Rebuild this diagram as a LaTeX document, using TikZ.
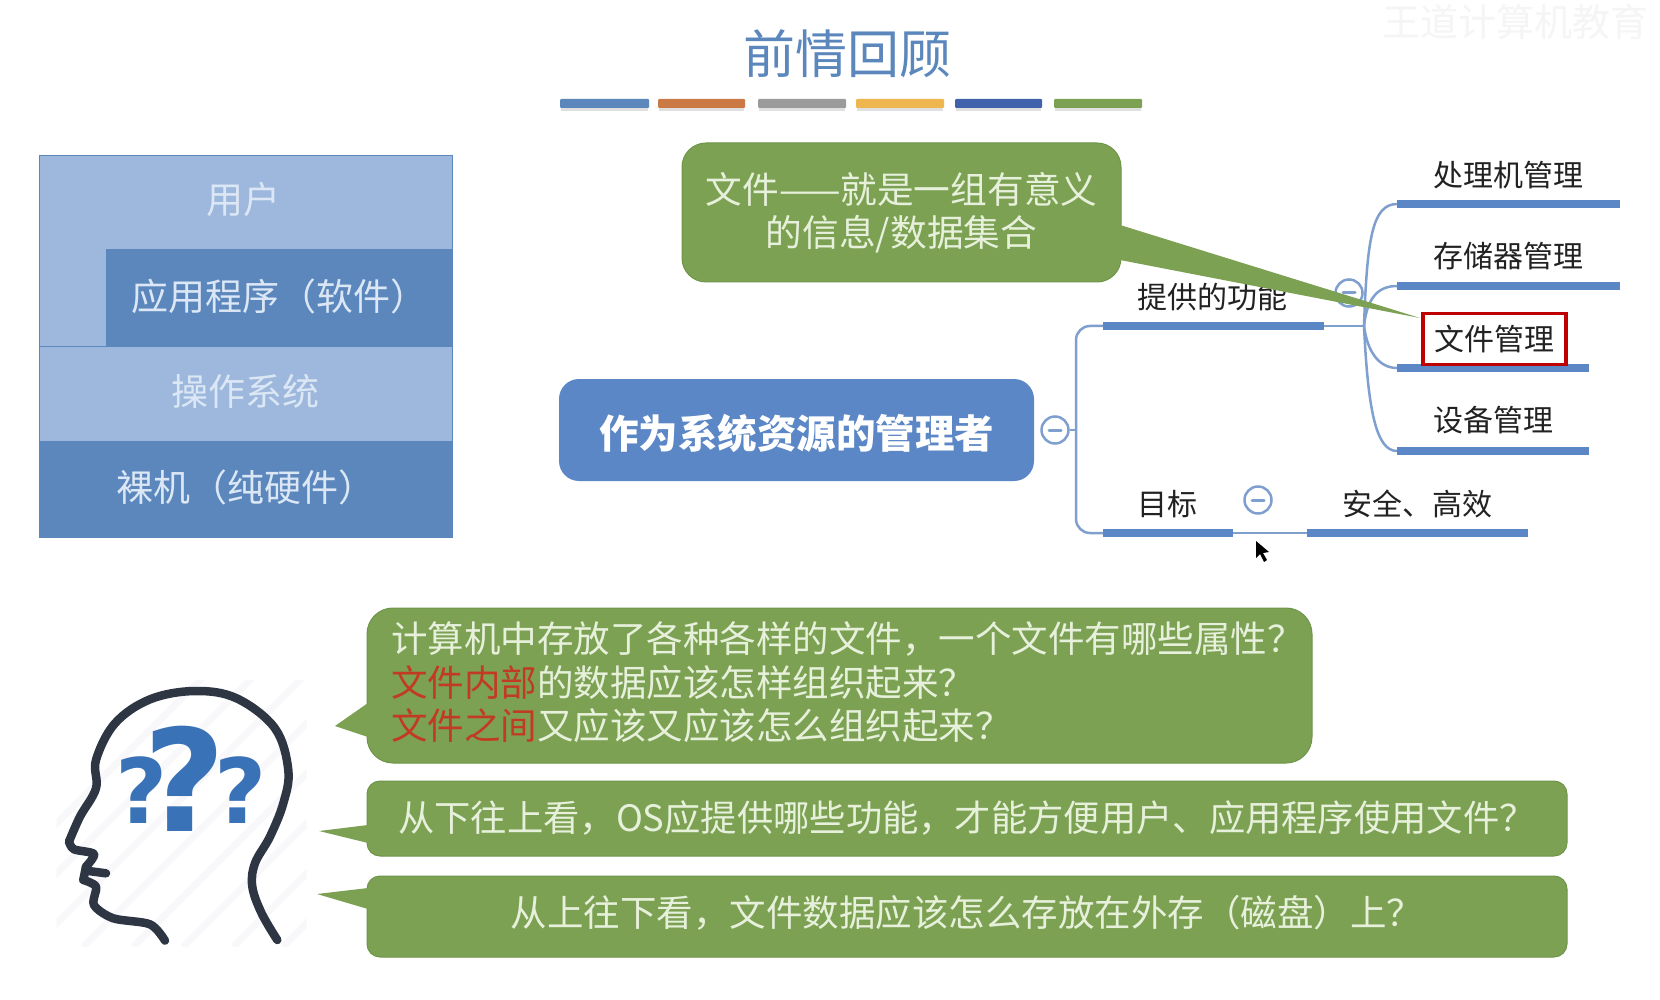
\documentclass[tikz,border=0pt]{standalone}
\usepackage{fontspec}
\setmainfont{Noto Sans CJK SC}
\newfontfamily\qfont{DejaVu Sans}
\definecolor{stackdark}{HTML}{5B87BD}
\definecolor{stacklight}{HTML}{9DB8DC}
\definecolor{stacktext}{HTML}{DCE7F5}
\definecolor{callgreen}{HTML}{7CA153}
\definecolor{callline}{HTML}{6F9548}
\definecolor{calltext}{HTML}{E6F0DA}
\definecolor{mapblue}{HTML}{5C87C6}
\definecolor{thinblue}{HTML}{7F9FCF}
\definecolor{inktext}{HTML}{222222}
\definecolor{headink}{HTML}{2E3644}
\definecolor{qblue}{HTML}{3A72B8}
\definecolor{hatch}{HTML}{F8F8FB}
\definecolor{redtext}{HTML}{C23A22}
\definecolor{baror}{HTML}{CC7A45}
\definecolor{bargr}{HTML}{9B9B9B}
\definecolor{baryl}{HTML}{EFB54F}
\definecolor{barbl}{HTML}{3F62AB}
\newcommand{\fs}[1]{\fontsize{#1}{#1}\selectfont}
\newcommand{\lift}[2]{\raisebox{#1}[\height][\depth]{#2}}
\tikzset{
  stackbox/.style={draw=stackdark,line width=1pt,inner sep=0pt,text=stacktext,font=\fs{37}},
  barshadow/.style={fill=black!12,draw=none},
  callbox/.style={fill=callgreen,draw=callline,line width=1pt,inner sep=0pt,text=calltext},
  calltail/.style={fill=callgreen,draw=none},
  thick bar/.style={draw=mapblue,line width=8.5pt},
  thin link/.style={draw=thinblue,line width=2.5pt},
  foldmark/.style={circle,draw=thinblue,fill=white,line width=2.5pt,minimum size=27pt,inner sep=0pt},
  maplabel/.style={text=inktext,font=\fs{30},inner sep=0pt},
  headline/.style={draw=headink,line width=8.5pt,line cap=round,line join=round},
  hatchline/.style={draw=hatch,line width=7pt},
}
\begin{document}
\begin{tikzpicture}[x=1pt,y=-1pt]
\useasboundingbox (0,0) rectangle (1660,1000);
\fill[white] (0,0) rectangle (1660,1000);
% watermark
\node[text=black!4,font=\fs{38},inner sep=0pt] (mark) at (1515,22) {王道计算机教育};
% title
\node[text=stackdark,font=\fs{52},inner sep=0pt] (title) at (847,54) {前情回顾};
\foreach \a/\b/\c in {560/649/stackdark,658/745/baror,758/846/bargr,856/944/baryl,955/1042/barbl,1054/1142/callgreen}{
  \fill[barshadow] (\a+1,104) rectangle (\b-1,111);
  \fill[\c,rounded corners=1pt] (\a,99) rectangle (\b,108);
}
% left stack
\fill[stacklight] (39,156) rectangle (452,346);
\node[stackbox,fill=stackdark,minimum width=346pt,minimum height=96pt] (app) at (279,298) {\lift{2pt}{应用程序（软件）}};
\draw[stackdark,line width=1pt] (39,156) rectangle (452,346);
\node[text=stacktext,font=\fs{37},inner sep=0pt] (user) at (243,199) {用户};
\node[stackbox,fill=stacklight,minimum width=413pt,minimum height=95pt] (os) at (245.5,393.5) {\lift{2pt}{操作系统}};
\node[stackbox,fill=stackdark,minimum width=413pt,minimum height=96pt] (hw) at (245.5,489) {\lift{2pt}{裸机（纯硬件）}};
% mind map
\coordinate (tA) at (1103,326); \coordinate (tB) at (1324,326);
\coordinate (gA) at (1103,533); \coordinate (gB) at (1233,533);
\coordinate (sA) at (1307,533); \coordinate (sB) at (1528,533);
\coordinate (j) at (1364,326);
\coordinate (p1) at (1397,204); \coordinate (p1e) at (1620,204);
\coordinate (p2) at (1397,286); \coordinate (p2e) at (1620,286);
\coordinate (p3) at (1397,368); \coordinate (p3e) at (1589,368);
\coordinate (p4) at (1397,451); \coordinate (p4e) at (1589,451);
\node[fill=mapblue,rounded corners=20pt,minimum width=475pt,minimum height=102pt,inner sep=0pt,text=white,font=\fs{39.5}\bfseries] (root) at (796.5,430) {\lift{-3pt}{作为系统资源的管理者}};
\node[foldmark] (f0) at (1055,430) {};
\node[foldmark] (f1) at (1349,293) {};
\node[foldmark] (f2) at (1258,500) {};
\draw[thinblue,line width=3pt,line cap=round] (1049,430) -- (1061,430);
\draw[thinblue,line width=3pt,line cap=round] (1252,500) -- (1264,500);
\draw[thinblue,line width=3pt,line cap=round] (1343,293) -- (1355,293);
\draw[thin link] (f0.east) -- (1076,430);
\draw[thin link,rounded corners=14pt] (tA) -- (1076,326) -- (1076,533) -- (gA);
\draw[thin link] (tB) -- (j);
\draw[thin link] (gB) -- (sA);
\draw[thin link] (j) .. controls (1367,240) and (1372,204) .. (p1);
\draw[thin link] (j) .. controls (1367,298) and (1378,286) .. (p2);
\draw[thin link] (j) .. controls (1367,350) and (1378,368) .. (p3);
\draw[thin link] (j) .. controls (1368,410) and (1376,451) .. (p4);
\draw[thick bar] (tA) -- (tB);
\draw[thick bar] (gA) -- (gB);
\draw[thick bar] (sA) -- (sB);
\draw[thick bar] (p1) -- (p1e);
\draw[thick bar] (p2) -- (p2e);
\draw[thick bar] (p3) -- (p3e);
\draw[thick bar] (p4) -- (p4e);
\node[maplabel] (l1) at (1508,175) {处理机管理};
\node[maplabel] (l2) at (1508,256) {存储器管理};
\node[draw=red!75!black,line width=3.5pt,fill=white,minimum width=143pt,minimum height=51pt,maplabel] (l3) at (1494.5,339) {文件管理};
\node[maplabel] (l4) at (1493,420) {设备管理};
\node[maplabel] (l5) at (1212,297) {提供的功能};
\node[maplabel] (l6) at (1167,504) {目标};
\node[maplabel] (l7) at (1417,504) {安全、高效};
% cursor
\fill[black] (1256,541) -- (1256,558) -- (1260,554) -- (1264,562) -- (1267,560) -- (1263,553) -- (1269,552) -- cycle;
% callouts
\node[callbox,rounded corners=24pt,minimum width=439pt,minimum height=139pt,align=center] (def) at (901.5,212.5) {\fs{36.7}文件——就是一组有意义\\[8pt]\fs{36.7}的信息/数据集合};
\fill[calltail] (1120,225) -- (1420,318) -- (1120,260) -- cycle;
\coordinate (q1t) at (335,726);
\coordinate (q2t) at (319,831);
\coordinate (q3t) at (317,894);
\node[callbox,rounded corners=26pt,minimum width=945pt,minimum height=155pt] (q1) at (839.5,685.5) {};
\node[anchor=west,inner sep=0pt,text=calltext,align=left] (q1text) at (391,682) {\fs{36.5}计算机中存放了各种各样的文件，一个文件有哪些属性？\\[8pt]\fs{36.5}\textcolor{redtext}{文件内部}的数据应该怎样组织起来？\\[8pt]\fs{36.5}\textcolor{redtext}{文件之间}又应该又应该怎么组织起来？};
\fill[calltail] (368,703) -- (q1t) -- (368,737) -- cycle;
\node[callbox,rounded corners=13pt,minimum width=1200pt,minimum height=75pt] (q2) at (967,818.5) {\fs{36.3}从下往上看，OS应提供哪些功能，才能方便用户、应用程序使用文件？};
\fill[calltail] (368,825) -- (q2t) -- (368,843) -- cycle;
\node[callbox,rounded corners=13pt,minimum width=1200pt,minimum height=81pt] (q3) at (967,916.5) {\lift{4pt}{\fs{36.5}从上往下看，文件数据应该怎么存放在外存（磁盘）上？}};
\fill[calltail] (368,888) -- (q3t) -- (368,909) -- cycle;
% head
\begin{scope}[x=0.3333pt,y=-0.3333pt,yshift=-660pt]
\clip (170,60) rectangle (920,860);
\foreach \s in {0,150,...,1200}{
  \draw[hatchline] (\s-200,860) -- (\s+700,-40);
}
\end{scope}
\begin{scope}[x=0.3333pt,y=-0.3333pt,yshift=-660pt]
\draw[headline] plot[smooth,tension=0.6] coordinates {(832,840) (785,760) (757,680) (765,610) (810,530) (850,430) (865,330) (825,205) (710,115) (585,93) (450,118) (345,190) (288,300) (288,385) (240,470) (207,545)};
\draw[headline] plot[smooth,tension=0.5] coordinates {(207,545) (222,568) (282,582) (258,620)};
\draw[headline] (258,632) -- (318,640);
\draw[headline] plot[smooth,tension=0.5] coordinates {(250,660) (288,680) (282,735) (340,775) (450,793) (495,842)};
\draw[headline] (258,620) -- (250,660);
\node[text=qblue,font=\qfont\fs{142}\bfseries,inner sep=0pt] (q0) at (555,355) {?};
\node[text=qblue,font=\qfont\fs{90}\bfseries,inner sep=0pt] (qa) at (425,390) {?};
\node[text=qblue,font=\qfont\fs{90}\bfseries,inner sep=0pt] (qb) at (722,390) {?};
\end{scope}
\end{tikzpicture}
\end{document}
